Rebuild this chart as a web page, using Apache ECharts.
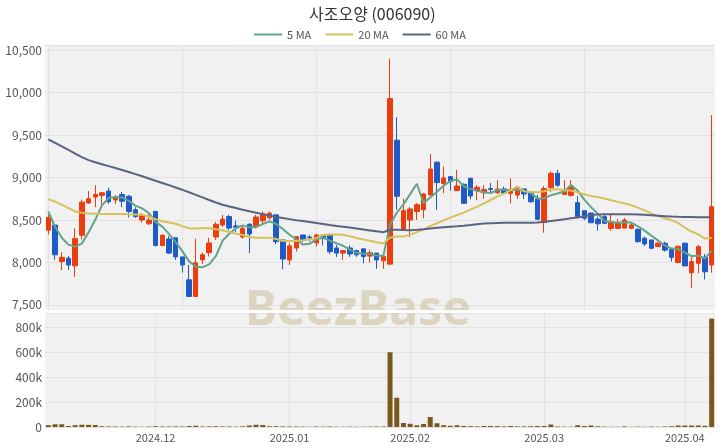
<!DOCTYPE html>
<html><head><meta charset="utf-8">
<script src="https://cdn.jsdelivr.net/npm/echarts@6/dist/echarts.min.js"></script>
<style>html,body{margin:0;padding:0;background:#fff}#c{width:720px;height:448px}</style>
</head><body><div id="c"></div>
<script>
const dates = [
'2024-11-08','2024-11-11','2024-11-12','2024-11-13','2024-11-14','2024-11-15','2024-11-18','2024-11-19','2024-11-20','2024-11-21','2024-11-22','2024-11-25','2024-11-26','2024-11-27','2024-11-28','2024-11-29',
'2024-12-02','2024-12-03','2024-12-04','2024-12-05','2024-12-06','2024-12-09','2024-12-10','2024-12-11','2024-12-12','2024-12-13','2024-12-16','2024-12-17','2024-12-18','2024-12-19','2024-12-20','2024-12-23','2024-12-24','2024-12-26','2024-12-27','2024-12-30',
'2025-01-02','2025-01-03','2025-01-06','2025-01-07','2025-01-08','2025-01-09','2025-01-10','2025-01-13','2025-01-14','2025-01-15','2025-01-16','2025-01-17','2025-01-20','2025-01-21','2025-01-22','2025-01-23','2025-01-24','2025-01-31',
'2025-02-03','2025-02-04','2025-02-05','2025-02-06','2025-02-07','2025-02-10','2025-02-11','2025-02-12','2025-02-13','2025-02-14','2025-02-17','2025-02-18','2025-02-19','2025-02-20','2025-02-21','2025-02-24','2025-02-25','2025-02-26','2025-02-27','2025-02-28',
'2025-03-03','2025-03-04','2025-03-05','2025-03-06','2025-03-07','2025-03-10','2025-03-11','2025-03-12','2025-03-13','2025-03-14','2025-03-17','2025-03-18','2025-03-19','2025-03-20','2025-03-21','2025-03-24','2025-03-25','2025-03-26','2025-03-27','2025-03-28','2025-03-31',
'2025-04-01','2025-04-02','2025-04-03','2025-04-04','2025-04-07'];
const opens = [8380,8440,8010,8050,7960,8320,8700,8770,8790,8840, 8735,8800,8780,8620,8500,8455,8600,8200,8276,8290, 8065,7795,7600,8030,8115,8300,8440,8540,8430,8300, 8450,8420,8490,8525,8560,8265,8030,8170,8323,8300, 8230,8320,8323,8170,8110,8170,8140,8160,8075,8110, 8020,7980,9440,8380,8500,8600,8620,8794,9180,8930, 9010,8845,8920,8990,8845,8820,8870,8821,8865,8814, 8794,8865,8818,8747,8470,8880,9050,8800,8790,8704, 8609,8582,8510,8539,8400,8400,8405,8402,8390,8285, 8265,8186,8226,8155,8000,8226,7880,7990,8060,7970];
const closes = [8530,8090,8060,7970,8280,8710,8750,8800,8820,8715, 8770,8720,8600,8540,8550,8500,8200,8320,8110,8065, 7970,7600,7995,8090,8230,8450,8510,8405,8415,8400, 8335,8535,8570,8580,8245,8040,8195,8303,8265,8290, 8323,8280,8127,8110,8140,8100,8090,8070,8115,8030, 8070,9930,8780,8610,8630,8680,8806,9100,8940,8995, 8955,8900,8696,8782,8885,8860,8860,8865,8818,8853, 8888,8806,8715,8508,8870,9050,8910,8840,8890,8539, 8520,8468,8455,8461,8475,8470,8500,8441,8245,8218, 8167,8226,8145,8060,8190,7959,8010,8186,7890,8656];
const lows = [8330,8030,7910,7910,7830,8270,8690,8650,8680,8690, 8690,8650,8530,8525,8470,8440,8190,8190,8100,8030, 7880,7600,7600,7980,8070,8265,8420,8380,8360,8280, 8110,8400,8440,8500,8215,7920,7970,8127,8240,8245, 8185,8200,8100,8065,8030,8065,8065,7990,8000,7925, 7925,7980,8620,8380,8300,8500,8520,8790,8620,8815, 8845,8840,8690,8743,8735,8750,8818,8806,8806,8696, 8747,8747,8700,8500,8350,8830,8890,8795,8775,8523, 8500,8461,8374,8450,8374,8400,8400,8390,8233,8194, 8155,8186,8127,8010,7990,7959,7696,7873,7800,7880];
const highs = [8560,8450,8120,8075,8400,8740,8840,8910,8830,8880, 8790,8830,8795,8650,8580,8590,8610,8330,8310,8290, 8065,7970,8280,8115,8290,8475,8560,8560,8490,8430, 8460,8560,8600,8600,8560,8265,8230,8310,8323,8323, 8335,8320,8340,8206,8140,8200,8150,8160,8150,8110, 8075,10400,9710,8750,8650,8700,8820,9276,9190,9130, 9018,9090,8930,8998,8912,8910,8935,8970,8892,8990, 8892,8865,8833,8794,8900,9070,9090,8970,8970,8782, 8609,8582,8539,8560,8560,8510,8524,8465,8402,8304, 8265,8245,8245,8170,8200,8233,8070,8206,8100,9735];
const volumes = [15000,22000,22000,8000,15000,18000,17000,16000,6000,5000, 4000,3000,5000,3000,2000,3000,6000,4000,4000,5000, 4000,8000,10000,4000,5000,6000,4000,4000,3000,5000, 12000,18000,16000,6000,6000,5000,4000,4000,3000,2000, 4000,3000,4000,2500,2000,3000,2000,2500,3000,3500, 4000,600000,235000,32000,26000,14000,24000,80000,30000,14000, 10000,14000,8000,7000,5000,8000,8000,7000,5000,8000, 5000,5000,6000,8000,8000,20000,4000,3000,2500,14000, 8000,12000,6000,3000,2000,2000,5000,2000,3000,2000, 3000,2000,4000,6000,12000,12000,12000,12000,10000,870000];
const ma5 = [8600,8420,8290,8210,8186,8222,8354,8502,8672,8759, 8771,8765,8725,8669,8636,8582,8478,8422,8336,8239, 8133,8013,7948,7944,7977,8073,8255,8337,8402,8436, 8413,8418,8451,8484,8453,8394,8326,8273,8210,8219, 8275,8292,8257,8226,8196,8151,8113,8102,8103,8081, 8075,8443,8585,8684,8804,8926,8701,8765,8831,8904, 8959,8978,8897,8866,8844,8825,8817,8850,8858,8851, 8857,8846,8816,8754,8757,8790,8811,8836,8912,8846, 8740,8651,8574,8489,8476,8466,8472,8469,8426,8375, 8314,8259,8200,8163,8158,8116,8073,8081,8047,8140];
const ma20 = [8745,8715,8680,8640,8600,8585,8575,8572,8570,8570, 8570,8570,8568,8565,8560,8540,8510,8485,8470,8455, 8427,8403,8399,8405,8403,8390,8378,8358,8338,8322, 8300,8291,8290,8292,8276,8253,8253,8252,8260,8271, 8289,8323,8329,8330,8326,8308,8287,8271,8256,8237, 8224,8294,8304,8306,8325,8357,8387,8427,8461,8496, 8528,8559,8587,8621,8658,8696,8735,8774,8810,8851, 8892,8835,8832,8827,8839,8858,8863,8850,8847,8825, 8803,8781,8769,8753,8733,8713,8695,8674,8645,8613, 8577,8548,8520,8498,8464,8409,8364,8331,8281,8287];
const ma60 = [9450,9408,9366,9324,9282,9240,9205,9180,9157,9134, 9111,9088,9065,9040,9014,8988,8962,8936,8910,8883, 8855,8826,8796,8766,8735,8705,8680,8658,8640,8620, 8603,8586,8569,8552,8535,8522,8510,8498,8487,8476, 8465,8453,8441,8430,8420,8410,8399,8388,8377,8366, 8355,8385,8385,8382,8380,8385,8392,8400,8408,8415, 8420,8425,8432,8440,8450,8458,8462,8465,8466,8467, 8468,8468,8468,8470,8478,8488,8498,8508,8520,8530, 8545,8558,8565,8568,8568,8568,8568,8567,8565,8560, 8555,8550,8545,8540,8537,8535,8534,8533,8532,8532];

const UP = '#ec3d0f', DOWN = '#1f5bc6';
const ohlc = dates.map((d, i) => [opens[i], closes[i], lows[i], highs[i]]);
const monthStart = dates.map((d, i) => i > 0 && d.slice(0, 7) !== dates[i - 1].slice(0, 7));
const chart = echarts.init(document.getElementById('c'));
const FONT = '"Noto Sans CJK KR","Noto Sans",sans-serif';
chart.setOption({
  animation: false,
  textStyle: {fontFamily: FONT},
  title: {text: '사조오양 (006090)', left: 304, top: 1,
    textStyle: {fontSize: 16, fontWeight: 'normal', color: '#333', fontFamily: FONT}},
  legend: {top: 24, left: 'center', icon: 'rect', itemWidth: 28, itemHeight: 2, itemGap: 14,
    textStyle: {fontSize: 11, color: '#555'},
    data: ['5 MA', '20 MA', '60 MA']},
  graphic: [
    {type: 'text', left: 245, top: 287, z: 1, silent: true,
      style: {text: 'BeezBase', font: 'bold 48px "Noto Sans", sans-serif', fill: 'rgba(200,190,155,0.55)'}},
    {type: 'rect', left: 45, top: 310, z: 5, silent: true, shape: {width: 670, height: 3}, style: {fill: '#ffffff'}}
  ],
  grid: [
    {left: 45, right: 5, top: 45, height: 265, show: true, backgroundColor: '#f1f1f1', borderWidth: 0},
    {left: 45, right: 5, top: 313, height: 114, show: true, backgroundColor: '#f1f1f1', borderWidth: 0}
  ],
  xAxis: [
    {type: 'category', data: dates, gridIndex: 0, boundaryGap: true,
      axisLine: {show: false}, axisTick: {show: false}, axisLabel: {show: false},
      splitLine: {show: true, interval: 19, alignWithLabel: true, lineStyle: {color: '#e2e2e2'}}},
    {type: 'category', data: dates, gridIndex: 1, boundaryGap: true,
      axisLine: {show: false}, axisTick: {show: false},
      axisLabel: {interval: (i) => monthStart[i], formatter: v => v.slice(0, 4) + '.' + v.slice(5, 7),
        color: '#555', fontSize: 11, margin: 5},
      splitLine: {show: true, interval: (i) => monthStart[i], alignWithLabel: true, lineStyle: {color: '#e2e2e2'}}}
  ],
  yAxis: [
    {type: 'value', gridIndex: 0, min: 7440, max: 10560, scale: true,
      axisLine: {show: false}, axisTick: {show: false},
      axisLabel: {color: '#555', fontSize: 12, margin: 3,
        formatter: v => (Math.round(v) % 500 === 0 ? Math.round(v).toLocaleString('en-US') : '')},
      splitLine: {lineStyle: {color: '#e2e2e2'}}},
    {type: 'value', gridIndex: 1, min: 0, max: v => v.max * 1.052,
      axisLine: {show: false}, axisTick: {show: false},
      axisLabel: {color: '#555', fontSize: 12, margin: 3,
        formatter: v => (Math.round(v) % 200000 === 0 ? (v === 0 ? '0' : (v / 1000) + 'k') : '')},
      splitLine: {lineStyle: {color: '#e2e2e2'}}}
  ],
  series: [
    {type: 'candlestick', name: '사조오양', xAxisIndex: 0, yAxisIndex: 0, data: ohlc, barWidth: 5,
      itemStyle: {color: UP, color0: DOWN, borderColor: UP, borderColor0: DOWN, borderWidth: 1}},
    {type: 'line', name: '5 MA', data: ma5, xAxisIndex: 0, yAxisIndex: 0, symbol: 'none',
      lineStyle: {color: '#62a38c', width: 2}, itemStyle: {color: '#62a38c'}},
    {type: 'line', name: '20 MA', data: ma20, xAxisIndex: 0, yAxisIndex: 0, symbol: 'none',
      lineStyle: {color: '#d8c05a', width: 2}, itemStyle: {color: '#d8c05a'}},
    {type: 'line', name: '60 MA', data: ma60, xAxisIndex: 0, yAxisIndex: 0, symbol: 'none',
      lineStyle: {color: '#5b6380', width: 2}, itemStyle: {color: '#5b6380'}},
    {type: 'bar', name: 'Volume', data: volumes, xAxisIndex: 1, yAxisIndex: 1, barWidth: 5,
      itemStyle: {color: '#7a5a1c'}}
  ]
});
</script></body></html>
